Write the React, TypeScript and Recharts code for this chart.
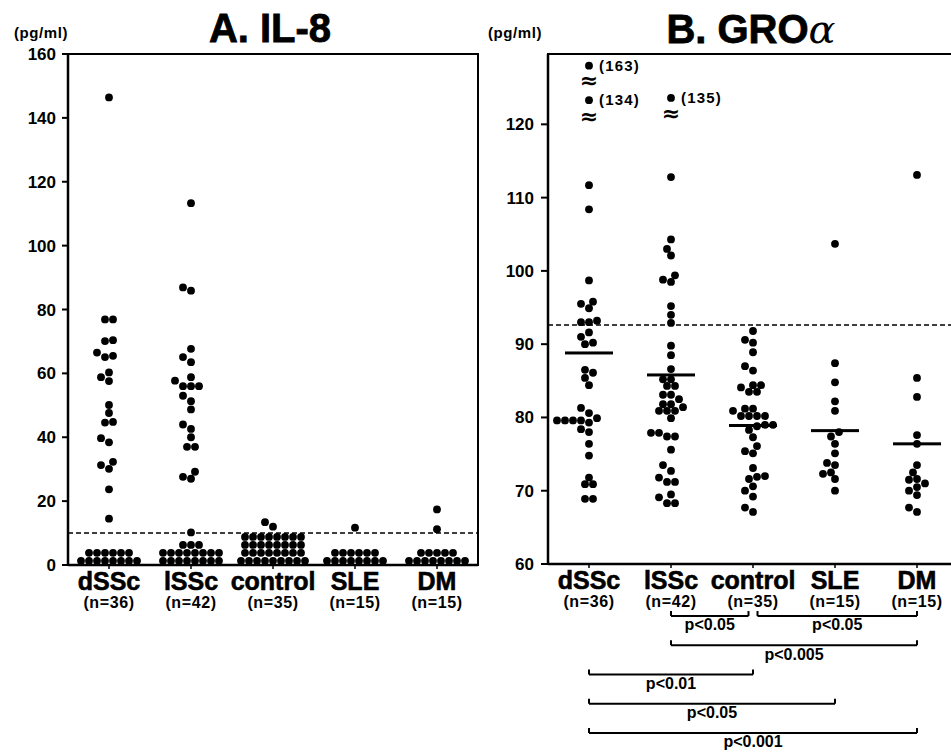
import { ScatterChart, Scatter, XAxis, YAxis, ReferenceLine, ReferenceArea } from 'recharts'

const FONT = '"Liberation Sans", Arial, Helvetica, sans-serif'

const groups = ['dSSc', 'lSSc', 'control', 'SLE', 'DM']
const groupN = ['(n=36)', '(n=42)', '(n=35)', '(n=15)', '(n=15)']

// A. IL-8 (pg/ml), values under the detection limit sit in the bottom rows
const il8DSSc = [146.4, 76.9, 76.9, 70.4, 70.1, 66.5, 65.5, 65.1, 60.3, 58.8, 57.6, 50.1, 47.6, 44.8, 44.6, 39.7, 38.4,
  32.3, 31.3, 30.1, 23.7, 14.5, 3.8, 3.8, 3.8, 3.8, 3.8, 3.8, 1.3, 1.3, 1.3, 1.3, 1.3, 1.3, 1.3, 1.3]
const il8LSSc = [113.3, 86.9, 85.9, 67.7, 65.1, 63.5, 58.8, 57.7, 56.0, 56.0, 56.0, 53.0, 51.3, 48.7, 44.0, 42.6, 40.0,
  37.0, 37.0, 29.2, 27.6, 27.0, 10.2, 6.3, 6.3, 6.3, 3.8, 3.8, 3.8, 3.8, 3.8, 3.8, 3.8, 3.8,
  1.3, 1.3, 1.3, 1.3, 1.3, 1.3, 1.3, 1.3]
const il8Control = [13.4, 12.0, 8.8, 8.8, 8.8, 8.8, 8.8, 8.8, 8.8, 8.8, 6.3, 6.3, 6.3, 6.3, 6.3, 6.3, 6.3, 6.3,
  3.8, 3.8, 3.8, 3.8, 3.8, 3.8, 3.8, 3.8, 1.3, 1.3, 1.3, 1.3, 1.3, 1.3, 1.3, 1.3, 1.3]
const il8SLE = [11.7, 3.8, 3.8, 3.8, 3.8, 3.8, 3.8, 1.3, 1.3, 1.3, 1.3, 1.3, 1.3, 1.3, 1.3]
const il8DM = [17.4, 11.2, 3.8, 3.8, 3.8, 3.8, 3.8, 1.3, 1.3, 1.3, 1.3, 1.3, 1.3, 1.3, 1.3]
const il8Ticks = [0, 20, 40, 60, 80, 100, 120, 140, 160]
const il8Cutoff = 10

// B. GRO alpha (pg/ml)
const groDSSc = [111.7, 108.4, 98.7, 95.8, 95.5, 94.9, 93.2, 93.0, 93.0, 91.6, 91.0, 90.2, 90.0, 86.5, 86.1, 85.4,
  84.4, 81.3, 80.6, 79.9, 79.6, 79.6, 79.6, 79.6, 79.3, 78.4, 78.0, 76.4, 74.8, 71.8, 70.9, 70.9, 68.9, 68.9]
const groLSSc = [112.8, 104.3, 103.0, 102.1, 99.4, 98.8, 98.5, 95.2, 94.0, 92.9, 89.8, 88.5, 86.6, 85.2, 85.2, 84.3,
  84.3, 83.1, 83.1, 82.5, 81.8, 81.8, 81.4, 80.9, 80.9, 80.9, 79.9, 77.9, 77.9, 77.4, 77.4, 75.6, 73.5, 72.7, 71.8,
  71.2, 71.2, 69.5, 69.1, 68.3, 68.3]
const groControl = [91.8, 90.6, 90.2, 88.9, 87.0, 86.4, 84.4, 84.4, 84.1, 83.5, 83.5, 81.2, 81.2, 80.9, 80.2, 80.2,
  80.2, 80.2, 79.0, 79.0, 78.8, 78.3, 77.3, 76.1, 75.4, 75.1, 73.1, 72.0, 71.9, 71.6, 70.6, 70.0, 69.2, 67.7, 67.1]
const groSLE = [103.7, 87.4, 84.8, 82.2, 80.9, 78.0, 77.4, 76.4, 75.1, 73.8, 73.5, 72.5, 72.3, 71.6, 70.0]
const groDM = [113.1, 85.4, 82.8, 77.6, 76.4, 73.5, 72.5, 71.6, 71.5, 71.0, 70.5, 70.0, 69.4, 67.7, 67.1]
const groMeans = [88.8, 85.8, 78.9, 78.2, 76.4]
const groTicks = [60, 70, 80, 90, 100, 110, 120]
const groCutoff = 92.6
const groTop = 129.6
// values above the axis break: where they are drawn, and the printed value
const groOutliers = [
  { group: 0, shown: 128.0, label: '(163)' },
  { group: 0, shown: 123.3, label: '(134)' },
  { group: 1, shown: 123.6, label: '(135)' },
]
const groBreaks = [
  { group: 0, at: 125.8 },
  { group: 0, at: 120.9 },
  { group: 1, at: 121.3 },
]

const comparisons = [
  { from: 1, to: 2, row: 0, text: 'p<0.05' },
  { from: 2, to: 4, row: 0, text: 'p<0.05' },
  { from: 1, to: 4, row: 1, text: 'p<0.005' },
  { from: 0, to: 2, row: 2, text: 'p<0.01' },
  { from: 0, to: 3, row: 3, text: 'p<0.05' },
  { from: 0, to: 4, row: 4, text: 'p<0.001' },
]

// layout
const CHART_W = 480
const CHART_H = 620
const PLOT_W = 410
const PX_PER_CAT = PLOT_W / groups.length
const DOT = 8
const ROW_TOL = 1.5

// beeswarm: near-equal values become centred rows, the rest are nudged sideways until they stop overlapping
function swarm(values: number[], cat: number, pxPerUnit: number) {
  const sorted = [...values].sort((a, b) => a - b)
  const rows: number[][] = []
  for (const v of sorted) {
    const last = rows[rows.length - 1]
    if (last && (v - last[0]) * pxPerUnit <= ROW_TOL) last.push(v)
    else rows.push([v])
  }
  const placed: [number, number][] = []
  const out: { x: number; y: number }[] = []
  for (const row of rows) {
    for (let k = 0; k < 80; k++) {
      const c = (k % 2 === 1 ? -1 : 1) * Math.ceil(k / 2) * (DOT / 2)
      const cand = row.map((v, j) => [c + (j - (row.length - 1) / 2) * DOT, v * pxPerUnit, v])
      const free = cand.every(([x, y]) => placed.every(([px, py]) => Math.hypot(x - px, y - py) >= DOT * 0.92))
      if (free) {
        cand.forEach(([x, y, v]) => {
          placed.push([x, y])
          out.push({ x: cat + x / PX_PER_CAT, y: v })
        })
        break
      }
    }
  }
  return out
}

const il8Points = [il8DSSc, il8LSSc, il8Control, il8SLE, il8DM].flatMap((vals, i) => swarm(vals, i, 511 / 160))
const groPoints = [groDSSc, groLSSc, groControl, groSLE, groDM].flatMap((vals, i) => swarm(vals, i, 510 / (groTop - 60)))
const meanPoints = groMeans.map((m, i) => ({ x: i, y: m }))
const outlierPoints = groOutliers.map((o) => ({ x: o.group, y: o.shown, label: o.label }))
const breakPoints = groBreaks.map((b) => ({ x: b.group, y: b.at }))

const Dot = (p: any) => <circle cx={p.cx} cy={p.cy} r={3.9} fill="#000" />
const MeanBar = (p: any) => <rect x={p.cx - 24} y={p.cy - 1.5} width={48} height={3} fill="#000" />
const Outlier = (p: any) => (
  <g>
    <circle cx={p.cx} cy={p.cy} r={3.9} fill="#000" />
    <text x={p.cx + 10} y={p.cy} dy="0.35em" fontSize={15} fontWeight={700} letterSpacing={1.2} fill="#000">
      {p.payload.label}
    </text>
  </g>
)
const BreakMark = (p: any) => (
  <text x={p.cx} y={p.cy} dy="0.3em" textAnchor="middle" fontSize={22} fontWeight={700}
    fontFamily='"DejaVu Sans", sans-serif' fill="#000">≈</text>
)

function CategoryTick({ x, y, payload }: any) {
  const i = payload.value
  return (
    <g>
      <text x={x} y={y} dy={19} textAnchor="middle" fontSize={25} fontWeight={700} fill="#000"
        stroke="#000" strokeWidth={0.6}>{groups[i]}</text>
      <text x={x} y={y} dy={37} textAnchor="middle" fontSize={16} fontWeight={700} letterSpacing={0.6} fill="#000">
        {groupN[i]}
      </text>
    </g>
  )
}

const yTick = { fill: '#000', fontSize: 17, fontWeight: 700 }
const axisLine = { stroke: '#000', strokeWidth: 2.5 }
const tickLine = { stroke: '#000', strokeWidth: 2 }

function catAxis() {
  return (
    <XAxis
      type="number"
      dataKey="x"
      domain={[-0.5, 4.5]}
      ticks={[0, 1, 2, 3, 4]}
      interval={0}
      height={50}
      tickSize={4}
      tickMargin={2}
      axisLine={axisLine}
      tickLine={{ stroke: '#000', strokeWidth: 1.5 }}
      tick={<CategoryTick />}
    />
  )
}

export default function App() {
  const ends = (c: (typeof comparisons)[number]) => {
    const inset = 0.055
    const x1 = c.from + (comparisons.some((o) => o.row === c.row && o.to === c.from) ? inset : 0)
    const x2 = c.to - (comparisons.some((o) => o.row === c.row && o.from === c.to) ? inset : 0)
    return [x1, x2]
  }
  const up = 0.17

  return (
    <div style={{ position: 'fixed', left: 0, top: 0, width: 951, height: 753, overflow: 'hidden', background: '#fff', fontFamily: FONT }}>
      <svg width={951} height={753} style={{ position: 'absolute', left: 0, top: 0 }}>
        <text x={270} y={42} textAnchor="middle" fontSize={40} fontWeight={700} stroke="#000" strokeWidth={0.8}>A. IL-8</text>
        <text x={751} y={43} textAnchor="middle" fontSize={40} fontWeight={700}>
          <tspan stroke="#000" strokeWidth={0.8}>B. GRO</tspan>
          <tspan fontFamily='"DejaVu Serif", serif' fontWeight={400} fontStyle="italic">α</tspan>
        </text>
        <text x={41} y={38} textAnchor="middle" fontSize={15} fontWeight={700} letterSpacing={0.6}>(pg/ml)</text>
        <text x={515} y={38} textAnchor="middle" fontSize={15} fontWeight={700} letterSpacing={0.6}>(pg/ml)</text>
      </svg>

      <div style={{ position: 'absolute', left: 0, top: 0 }}>
        <ScatterChart width={CHART_W} height={CHART_H} margin={{ top: 54, right: 2, bottom: 5, left: 8 }}>
          {catAxis()}
          <YAxis
            type="number"
            dataKey="y"
            domain={[0, 160]}
            ticks={il8Ticks}
            interval={0}
            width={60}
            tickSize={6}
            tickMargin={6}
            axisLine={axisLine}
            tickLine={tickLine}
            tick={yTick}
          />
          <ReferenceArea x1={-0.5} x2={4.5} y1={0} y2={160} fill="none" stroke="#000" strokeWidth={2} ifOverflow="visible" />
          <ReferenceLine y={il8Cutoff} stroke="#000" strokeWidth={1.5} strokeDasharray="5 3" />
          <Scatter data={il8Points} shape={Dot} isAnimationActive={false} />
        </ScatterChart>
      </div>

      <div style={{ position: 'absolute', left: 480, top: 0 }}>
        <ScatterChart width={CHART_W} height={CHART_H} margin={{ top: 54, right: 2, bottom: 6, left: 8 }}>
          {catAxis()}
          <YAxis
            type="number"
            dataKey="y"
            domain={[60, groTop]}
            ticks={groTicks}
            interval={0}
            width={60}
            tickSize={7}
            tickMargin={7}
            axisLine={axisLine}
            tickLine={tickLine}
            tick={yTick}
          />
          <ReferenceArea x1={-0.5} x2={4.5} y1={60} y2={groTop} fill="none" stroke="#000" strokeWidth={2} ifOverflow="visible" />
          <ReferenceLine y={groCutoff} stroke="#000" strokeWidth={1.5} strokeDasharray="5 3" />
          <Scatter data={groPoints} shape={Dot} isAnimationActive={false} />
          <Scatter data={meanPoints} shape={MeanBar} isAnimationActive={false} />
          <Scatter data={outlierPoints} shape={Outlier} isAnimationActive={false} />
          <Scatter data={breakPoints} shape={BreakMark} isAnimationActive={false} />
        </ScatterChart>
      </div>

      <div style={{ position: 'absolute', left: 480, top: 600 }}>
        <ScatterChart width={CHART_W} height={153} margin={{ top: 16, right: 2, bottom: 20, left: 68 }}>
          <XAxis type="number" dataKey="x" domain={[-0.5, 4.5]} hide />
          <YAxis type="number" dataKey="y" domain={[0, 4]} reversed hide />
          {comparisons.map((c, i) => {
            const [x1, x2] = ends(c)
            return [
              <ReferenceLine key={`l${i}`} segment={[{ x: x1, y: c.row - up }, { x: x1, y: c.row }]}
                stroke="#000" strokeWidth={2} ifOverflow="visible" />,
              <ReferenceLine key={`r${i}`} segment={[{ x: x2, y: c.row - up }, { x: x2, y: c.row }]}
                stroke="#000" strokeWidth={2} ifOverflow="visible" />,
              <ReferenceLine key={`h${i}`} segment={[{ x: x1, y: c.row }, { x: x2, y: c.row }]}
                stroke="#000" strokeWidth={1.8} ifOverflow="visible"
                label={{ value: c.text, position: 'bottom', offset: 3, fill: '#000', fontSize: 16, fontWeight: 700 }} />,
            ]
          })}
          <Scatter data={comparisons.map((c) => ({ x: c.from, y: c.row }))} shape={() => <g />} isAnimationActive={false} />
        </ScatterChart>
      </div>
    </div>
  )
}
